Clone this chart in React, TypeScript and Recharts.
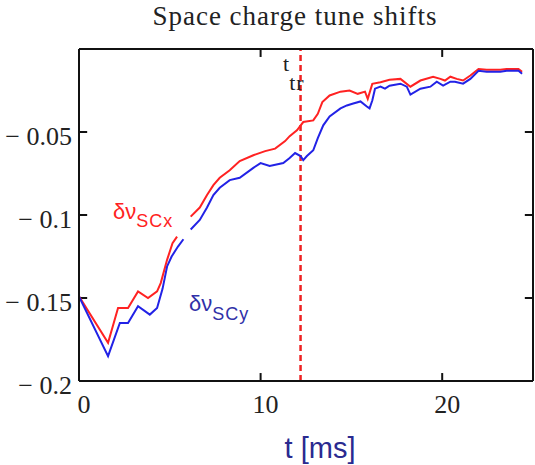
import { LineChart, Line, XAxis, YAxis, ReferenceLine } from "recharts";

// horizontal plane (red) — null marks the gap under the label
const tX = [0, 1.6, 2.15, 2.7, 3.25, 3.8, 4.3, 4.5, 4.85, 5.15, 5.4, 5.8, 6.15, 6.65, 7.05, 7.4, 7.75, 8.3, 8.85, 9.6, 10.25, 10.8, 11.35, 11.6, 12.0, 12.35, 12.9, 13.15, 13.4, 13.8, 14.4, 14.9, 15.35, 15.75, 15.9, 16.15, 16.6, 17.1, 17.7, 18.25, 18.8, 19.5, 19.9, 20.15, 20.45, 20.8, 21.15, 21.55, 22.0, 22.45, 23.2, 23.55, 24.2, 24.4];
const dQx = [-0.149, -0.177, -0.156, -0.156, -0.146, -0.15, -0.146, -0.141, -0.127, -0.117, -0.113, null, -0.101, -0.0955, -0.088, -0.082, -0.0776, -0.073, -0.0675, -0.064, -0.0615, -0.06, -0.0555, -0.0525, -0.049, -0.044, -0.043, -0.039, -0.032, -0.028, -0.0257, -0.025, -0.027, -0.0257, -0.03, -0.021, -0.02, -0.0185, -0.018, -0.0227, -0.019, -0.0167, -0.018, -0.019, -0.0167, -0.018, -0.019, -0.016, -0.012, -0.0125, -0.0125, -0.012, -0.012, -0.0137];

// vertical plane (blue)
const tY = [0, 1.6, 2.25, 2.7, 3.25, 3.9, 4.3, 4.6, 4.85, 5.1, 5.45, 5.75, 5.95, 6.15, 6.65, 7.05, 7.4, 7.75, 8.3, 8.85, 9.6, 10.0, 10.5, 11.25, 11.6, 11.9, 12.2, 12.35, 12.55, 12.9, 13.15, 13.45, 13.8, 14.4, 14.75, 15.1, 15.5, 15.85, 16.0, 16.15, 16.3, 16.6, 16.85, 17.1, 17.7, 18.05, 18.25, 18.8, 19.35, 19.7, 20.05, 20.45, 20.7, 21.15, 21.55, 22.0, 22.45, 23.2, 23.55, 24.2, 24.4];
const dQy = [-0.149, -0.185, -0.165, -0.165, -0.155, -0.16, -0.156, -0.1445, -0.131, -0.125, -0.119, -0.1146, null, -0.1087, -0.103, -0.0955, -0.088, -0.0836, -0.079, -0.0776, -0.0716, -0.0687, -0.0705, -0.0687, -0.0657, -0.0627, -0.0645, -0.0669, -0.0645, -0.061, -0.0537, -0.046, -0.0406, -0.0358, -0.034, -0.0328, -0.0316, -0.0346, -0.0358, -0.031, -0.0239, -0.0227, -0.0239, -0.0221, -0.0209, -0.0227, -0.0275, -0.0239, -0.0227, -0.0197, -0.0221, -0.0197, -0.0197, -0.0209, -0.018, -0.0131, -0.0137, -0.0137, -0.0131, -0.0131, -0.0149];

const T_MIN = 0;
const T_MAX = 25;
const Q_MIN = -0.2;
const Q_MAX = 0;
const xTicks = [0, 10, 20];
const xInnerTicks = [10, 20];
const yTicks = [-0.2, -0.15, -0.1, -0.05];
const yInnerTicks = [-0.15, -0.1, -0.05];
const tTransition = 12.2;

const xData = tX.map((t, i) => ({ t, v: dQx[i] }));
const yData = tY.map((t, i) => ({ t, v: dQy[i] }));

// inward tick length in data units (~8px)
const TICK_T = 0.45;
const TICK_Q = 0.0048;

const axisStyle = { stroke: "#111", strokeWidth: 2 };
const serif = "'Liberation Serif', 'Times New Roman', serif";
const sans = "'Liberation Sans', Arial, sans-serif";

export default function App() {
  return (
    <div style={{ position: "absolute", left: 0, top: 0, width: 535, height: 465, background: "#fff" }}>
      <div
        style={{
          position: "absolute", left: 0, top: 3, width: 590, textAlign: "center",
          fontFamily: serif, fontSize: 27, lineHeight: "27px", letterSpacing: 1, color: "#222",
        }}
      >
        Space charge tune shifts
      </div>
      <LineChart width={535} height={465} margin={{ top: 48, right: 1, bottom: 0, left: 0 }}>
        <XAxis
          xAxisId="b" dataKey="t" type="number" domain={[T_MIN, T_MAX]} ticks={xTicks}
          allowDataOverflow height={84} axisLine={axisStyle} tickLine={false}
          tickSize={0} tickMargin={14}
          tick={{ fill: "#222", fontSize: 26, fontFamily: serif, dx: 5 }}
          label={{ value: "t [ms]", position: "insideBottom", offset: 7, dx: 14, fill: "#2a2a90", fontSize: 29, fontFamily: sans }}
        />
        <XAxis
          xAxisId="top" orientation="top" dataKey="t" type="number" domain={[T_MIN, T_MAX]}
          allowDataOverflow height={1} axisLine={axisStyle} tickLine={false} tick={false}
        />
        <YAxis
          yAxisId="l" type="number" domain={[Q_MIN, Q_MAX]} ticks={yTicks} allowDataOverflow
          width={79} axisLine={axisStyle} tickLine={false} tickSize={0} tickMargin={7}
          tickFormatter={(v: number) => "\u2212 " + Math.abs(v)}
          tick={{ fill: "#222", fontSize: 26, fontFamily: serif, dy: 4 }}
        />
        <YAxis
          yAxisId="r" orientation="right" type="number" domain={[Q_MIN, Q_MAX]}
          allowDataOverflow width={1} axisLine={axisStyle} tickLine={false} tick={false}
        />
        {yInnerTicks.map((q) => (
          <ReferenceLine key={"l" + q} xAxisId="b" yAxisId="l" stroke="#111" strokeWidth={2}
            segment={[{ x: T_MIN, y: q }, { x: T_MIN + TICK_T, y: q }]} />
        ))}
        {yInnerTicks.map((q) => (
          <ReferenceLine key={"r" + q} xAxisId="b" yAxisId="l" stroke="#111" strokeWidth={2}
            segment={[{ x: T_MAX - TICK_T, y: q }, { x: T_MAX, y: q }]} />
        ))}
        {xInnerTicks.map((t) => (
          <ReferenceLine key={"b" + t} xAxisId="b" yAxisId="l" stroke="#111" strokeWidth={2}
            segment={[{ x: t, y: Q_MIN }, { x: t, y: Q_MIN + TICK_Q }]} />
        ))}
        {xInnerTicks.map((t) => (
          <ReferenceLine key={"t" + t} xAxisId="b" yAxisId="l" stroke="#111" strokeWidth={2}
            segment={[{ x: t, y: Q_MAX - TICK_Q }, { x: t, y: Q_MAX }]} />
        ))}
        <ReferenceLine xAxisId="b" yAxisId="l" x={tTransition} stroke="#ee2222" strokeWidth={2.5} strokeDasharray="6 4" />
        <Line
          xAxisId="b" yAxisId="l" data={xData} dataKey="v" type="linear" stroke="#ff2222"
          strokeWidth={2} dot={false} isAnimationActive={false} connectNulls={false}
        />
        <Line
          xAxisId="top" yAxisId="r" data={yData} dataKey="v" type="linear" stroke="#2222e6"
          strokeWidth={2} dot={false} isAnimationActive={false} connectNulls={false}
        />
      </LineChart>
      <div style={{ position: "absolute", left: 113, top: 201, color: "#ff2222", fontFamily: sans, fontSize: 22, lineHeight: "22px", whiteSpace: "nowrap" }}>
        δν<span style={{ fontSize: 18, position: "relative", top: 8, letterSpacing: 1 }}>SCx</span>
      </div>
      <div style={{ position: "absolute", left: 189, top: 293, color: "#3030a8", fontFamily: sans, fontSize: 22, lineHeight: "22px", whiteSpace: "nowrap" }}>
        δν<span style={{ fontSize: 18, position: "relative", top: 9, letterSpacing: 1 }}>SCy</span>
      </div>
      <div style={{ position: "absolute", left: 283, top: 53, color: "#222", fontFamily: serif, fontSize: 22, lineHeight: "22px", whiteSpace: "nowrap" }}>
        t<span style={{ position: "relative", top: 19, letterSpacing: 1 }}>tr</span>
      </div>
    </div>
  );
}
